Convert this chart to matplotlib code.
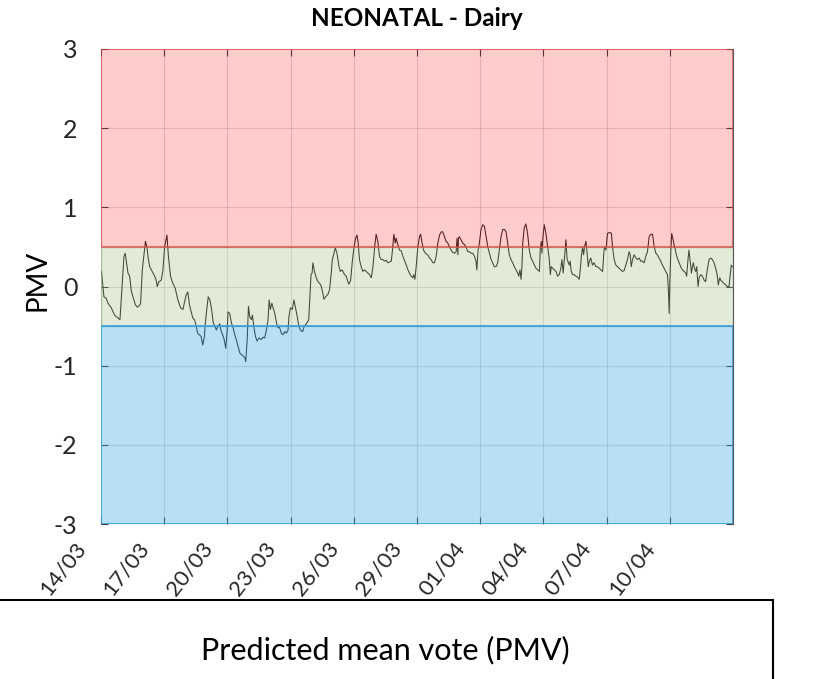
import matplotlib
matplotlib.use("Agg")
import matplotlib.pyplot as plt
import matplotlib.transforms as mtransforms
from matplotlib.patches import Rectangle

# ---- data -------------------------------------------------------------
title = "NEONATAL - Dairy"
y_label = "PMV"
caption = "Predicted mean vote (PMV)"

tick_labels = ["14/03", "17/03", "20/03", "23/03", "26/03",
               "29/03", "01/04", "04/04", "07/04", "10/04"]
tick_days = [0, 3, 6, 9, 12, 15, 18, 21, 24, 27]
day_span = [0, 30]
pmv_ticks = [-3, -2, -1, 0, 1, 2, 3]

# comfort bands (lower, upper)
band_warm = [0.5, 3]
band_neutral = [-0.5, 0.5]
band_cool = [-3, -0.5]

# elapsed days since 14/03 00:00
days = [
    0.02, 0.14, 0.25, 0.33, 0.49, 0.64, 0.81, 0.90, 1.00, 1.09, 1.15, 1.28,
    1.36, 1.44, 1.52, 1.63, 1.72, 1.83, 1.88, 1.96, 2.03, 2.11, 2.18, 2.23,
    2.31, 2.39, 2.47, 2.55, 2.62, 2.67, 2.75, 2.86, 2.94, 3.02, 3.13, 3.20,
    3.30, 3.41, 3.52, 3.65, 3.78, 3.89, 3.97, 4.05, 4.12, 4.20, 4.28, 4.36,
    4.44, 4.52, 4.59, 4.67, 4.75, 4.83, 4.91, 4.94, 5.00, 5.09, 5.17, 5.25,
    5.33, 5.40, 5.48, 5.56, 5.64, 5.69, 5.77, 5.83, 5.92, 5.99, 6.03, 6.11,
    6.19, 6.27, 6.35, 6.42, 6.51, 6.59, 6.67, 6.75, 6.83, 6.87, 6.94, 7.00,
    7.06, 7.14, 7.19, 7.25, 7.33, 7.41, 7.50, 7.61, 7.69, 7.77, 7.85, 7.93,
    7.98, 8.04, 8.11, 8.17, 8.25, 8.33, 8.40, 8.48, 8.56, 8.64, 8.72, 8.80,
    8.88, 8.92, 8.99, 9.08, 9.16, 9.22, 9.30, 9.39, 9.47, 9.57, 9.65, 9.75,
    9.86, 9.93, 9.97, 10.02, 10.06, 10.13, 10.22, 10.30, 10.38, 10.46, 10.54,
    10.58, 10.66, 10.77, 10.85, 10.93, 10.98, 11.06, 11.12, 11.20, 11.30,
    11.36, 11.45, 11.56, 11.64, 11.72, 11.77, 11.85, 11.93, 12.01, 12.09,
    12.15, 12.20, 12.27, 12.35, 12.43, 12.51, 12.59, 12.67, 12.75, 12.83,
    12.91, 12.99, 13.06, 13.14, 13.22, 13.30, 13.38, 13.46, 13.54, 13.62,
    13.70, 13.78, 13.85, 13.90, 13.97, 14.01, 14.09, 14.17, 14.25, 14.33,
    14.45, 14.57, 14.64, 14.72, 14.80, 14.85, 14.90, 14.96, 15.04, 15.12,
    15.17, 15.23, 15.31, 15.40, 15.51, 15.59, 15.67, 15.75, 15.83, 15.91,
    15.99, 16.07, 16.15, 16.22, 16.30, 16.38, 16.46, 16.54, 16.62, 16.70,
    16.78, 16.86, 16.90, 16.94, 16.97, 17.01, 17.09, 17.17, 17.25, 17.33,
    17.41, 17.49, 17.57, 17.65, 17.73, 17.80, 17.84, 17.90, 17.96, 18.04,
    18.12, 18.20, 18.28, 18.36, 18.44, 18.52, 18.59, 18.67, 18.75, 18.83,
    18.91, 18.99, 19.07, 19.15, 19.23, 19.30, 19.38, 19.46, 19.54, 19.62,
    19.70, 19.78, 19.83, 19.89, 19.94, 19.98, 20.02, 20.09, 20.17, 20.25,
    20.33, 20.41, 20.49, 20.57, 20.65, 20.73, 20.81, 20.85, 20.90, 20.93,
    20.98, 21.04, 21.12, 21.20, 21.28, 21.33, 21.37, 21.44, 21.52, 21.60,
    21.67, 21.75, 21.83, 21.88, 21.94, 22.02, 22.07, 22.12, 22.18, 22.23,
    22.27, 22.32, 22.39, 22.46, 22.54, 22.62, 22.70, 22.75, 22.80, 22.86,
    22.91, 22.95, 23.02, 23.06, 23.13, 23.18, 23.25, 23.33, 23.41, 23.49,
    23.57, 23.65, 23.73, 23.81, 23.89, 23.97, 24.04, 24.12, 24.17, 24.23,
    24.28, 24.36, 24.44, 24.52, 24.60, 24.68, 24.75, 24.83, 24.91, 24.99,
    25.07, 25.12, 25.17, 25.23, 25.31, 25.39, 25.47, 25.55, 25.62, 25.70,
    25.78, 25.86, 25.94, 26.02, 26.10, 26.18, 26.26, 26.34, 26.41, 26.49,
    26.57, 26.65, 26.73, 26.81, 26.89, 26.94, 26.97, 27.00, 27.05, 27.09,
    27.16, 27.20, 27.25, 27.31, 27.38, 27.44, 27.52, 27.60, 27.68, 27.76,
    27.80, 27.87, 27.91, 27.96, 28.03, 28.07, 28.12, 28.17, 28.23, 28.28,
    28.34, 28.39, 28.47, 28.55, 28.63, 28.70, 28.78, 28.86, 28.94, 29.02,
    29.10, 29.18, 29.26, 29.30, 29.37, 29.42, 29.49, 29.57, 29.65, 29.73,
    29.81, 29.86, 29.92, 29.97,
]

pmv = [
    0.19, -0.13, -0.15, -0.21, -0.27, -0.36, -0.40, -0.42, 0.00, 0.38, 0.42, 0.17,
    0.13, -0.06, -0.13, -0.23, -0.26, -0.24, -0.21, 0.21, 0.38, 0.57, 0.50, 0.38,
    0.25, 0.21, 0.17, 0.13, 0.08, 0.00, 0.06, 0.08, 0.21, 0.50, 0.65, 0.38,
    0.13, 0.04, -0.02, -0.17, -0.27, -0.29, -0.19, -0.10, -0.07, -0.23, -0.32, -0.40,
    -0.42, -0.50, -0.59, -0.61, -0.63, -0.74, -0.63, -0.50, -0.34, -0.13, -0.17, -0.29,
    -0.46, -0.50, -0.55, -0.50, -0.47, -0.55, -0.61, -0.65, -0.78, -0.55, -0.32, -0.34,
    -0.46, -0.52, -0.61, -0.67, -0.76, -0.84, -0.86, -0.88, -0.90, -0.95, -0.67, -0.25,
    -0.38, -0.42, -0.36, -0.50, -0.63, -0.69, -0.65, -0.67, -0.64, -0.65, -0.55, -0.42,
    -0.17, -0.29, -0.21, -0.27, -0.34, -0.46, -0.52, -0.52, -0.59, -0.61, -0.57, -0.59,
    -0.55, -0.38, -0.27, -0.29, -0.17, -0.25, -0.36, -0.50, -0.55, -0.57, -0.50, -0.47,
    -0.42, -0.05, 0.15, 0.17, 0.30, 0.19, 0.11, 0.06, 0.04, 0.00, -0.10,
    -0.16, -0.13, -0.10, -0.04, 0.17, 0.34, 0.42, 0.49, 0.42, 0.25,
    0.19, 0.21, 0.15, 0.13, 0.06, 0.03, 0.08, 0.32, 0.50, 0.61,
    0.65, 0.57, 0.34, 0.25, 0.19, 0.21, 0.19, 0.17, 0.15, 0.11,
    0.25, 0.50, 0.66, 0.57, 0.38, 0.34, 0.34, 0.32, 0.33, 0.30,
    0.31, 0.32, 0.50, 0.66, 0.55, 0.61, 0.53, 0.46, 0.45, 0.38,
    0.30, 0.21, 0.17, 0.13, 0.11, 0.15, 0.09, 0.25, 0.50, 0.63,
    0.66, 0.57, 0.46, 0.42, 0.40, 0.36, 0.34, 0.30, 0.30, 0.38,
    0.55, 0.65, 0.69, 0.69, 0.63, 0.57, 0.55, 0.50, 0.46, 0.43,
    0.42, 0.44, 0.61, 0.40, 0.61, 0.63, 0.59, 0.55, 0.53, 0.50,
    0.44, 0.44, 0.42, 0.42, 0.38, 0.32, 0.21, 0.46, 0.55, 0.72,
    0.78, 0.76, 0.63, 0.50, 0.42, 0.34, 0.30, 0.25, 0.25, 0.30,
    0.46, 0.63, 0.72, 0.72, 0.69, 0.55, 0.40, 0.34, 0.30, 0.25,
    0.21, 0.17, 0.13, 0.21, 0.09, 0.25, 0.55, 0.74, 0.79, 0.67,
    0.46, 0.36, 0.32, 0.27, 0.23, 0.21, 0.19, 0.46, 0.57, 0.42,
    0.63, 0.78, 0.67, 0.50, 0.34, 0.15, 0.25, 0.23, 0.21, 0.19,
    0.13, 0.15, 0.23, 0.34, 0.17, 0.42, 0.59, 0.36, 0.30, 0.27,
    0.32, 0.19, 0.15, 0.15, 0.13, 0.12, 0.09, 0.21, 0.38, 0.50,
    0.40, 0.50, 0.57, 0.46, 0.25, 0.32, 0.36, 0.27, 0.30, 0.25,
    0.25, 0.23, 0.21, 0.19, 0.50, 0.46, 0.67, 0.68, 0.68, 0.67,
    0.50, 0.34, 0.27, 0.25, 0.23, 0.21, 0.19, 0.20, 0.27, 0.34,
    0.44, 0.40, 0.25, 0.34, 0.40, 0.36, 0.34, 0.36, 0.32, 0.32,
    0.30, 0.38, 0.44, 0.63, 0.66, 0.66, 0.50, 0.42, 0.40, 0.36,
    0.32, 0.27, 0.23, 0.19, 0.15, -0.08, -0.34, 0.04, 0.46, 0.67,
    0.59, 0.53, 0.48, 0.40, 0.34, 0.30, 0.25, 0.21, 0.19, 0.17,
    0.13, 0.36, 0.46, 0.34, 0.17, 0.25, 0.30, 0.23, 0.19, 0.25,
    0.00, 0.11, 0.15, 0.13, 0.08, 0.06, 0.21, 0.34, 0.36, 0.34,
    0.30, 0.23, 0.13, 0.02, 0.11, 0.08, 0.06, 0.04, 0.02, 0.00,
    0.00, 0.13, 0.27, 0.25,
]

# ---- figure -----------------------------------------------------------
plt.rcParams["font.family"] = ["Lato", "DejaVu Sans"]

W, H = 820, 679
fig = plt.figure(figsize=(W / 100, H / 100), dpi=100)
ax = fig.add_axes([101 / W, 1 - 524 / H, 632 / W, 475 / H])

ax.plot(days, pmv, color="0.15", lw=0.75, zorder=2.0)

# translucent comfort bands over the series
ax.axhspan(*band_neutral, facecolor=(0.55, 0.70, 0.39, 0.25),
           edgecolor=(0.55, 0.65, 0.50, 0.6), lw=1.0, zorder=2.1)
ax.axhspan(*band_warm, facecolor=(1.0, 0.0, 0.0, 0.2),
           edgecolor=(0.85, 0.25, 0.25, 0.75), lw=1.2, zorder=2.2)
ax.axhspan(*band_cool, facecolor=(0.20, 0.65, 0.89, 0.35),
           edgecolor=(0.20, 0.62, 0.87, 0.85), lw=1.4, zorder=2.2)

ax.set_xlim(day_span)
ax.set_ylim(pmv_ticks[0], pmv_ticks[-1])
ax.set_xticks(tick_days)
ax.set_xticklabels(tick_labels, rotation=52, ha="right",
                   rotation_mode="anchor", fontsize=16, color="0.15")
ax.set_yticks(pmv_ticks)
ax.set_yticklabels([str(t) for t in pmv_ticks], fontsize=18, color="0.15")
ax.tick_params(direction="in", top=True, right=True, length=5,
               width=0.8, color="0.25")
ax.tick_params(axis="y", pad=17)
ax.tick_params(axis="x", pad=4)
ax.grid(True, color="0.15", alpha=0.15, lw=0.8)

# nudge the slanted date labels left, below their ticks
shift = mtransforms.ScaledTranslation(-27 / 100, -9 / 100, fig.dpi_scale_trans)
for lbl in ax.get_xticklabels():
    lbl.set_transform(lbl.get_transform() + shift)

for side in ("left", "top", "bottom"):
    ax.spines[side].set_visible(False)
ax.spines["right"].set_color("0.35")
ax.spines["right"].set_linewidth(0.8)

fig.text(417 / W, 1 - 19 / H, title, ha="center", va="center",
         fontsize=17.5, fontweight="bold",
         family=["Liberation Sans Narrow", "Lato", "DejaVu Sans"])
fig.text(38 / W, 1 - 280 / H, y_label, rotation=90, ha="center",
         va="center", fontsize=20)

# caption box
fig.patches.append(Rectangle((-0.01, -0.05), 773 / W + 0.01, 0.05 + 79 / H,
                             transform=fig.transFigure, fill=False,
                             ec="black", lw=1.5))
fig.text(385 / W, 1 - 650 / H, caption, ha="center", va="center",
         fontsize=22)

fig.savefig("out.png", dpi=100)
